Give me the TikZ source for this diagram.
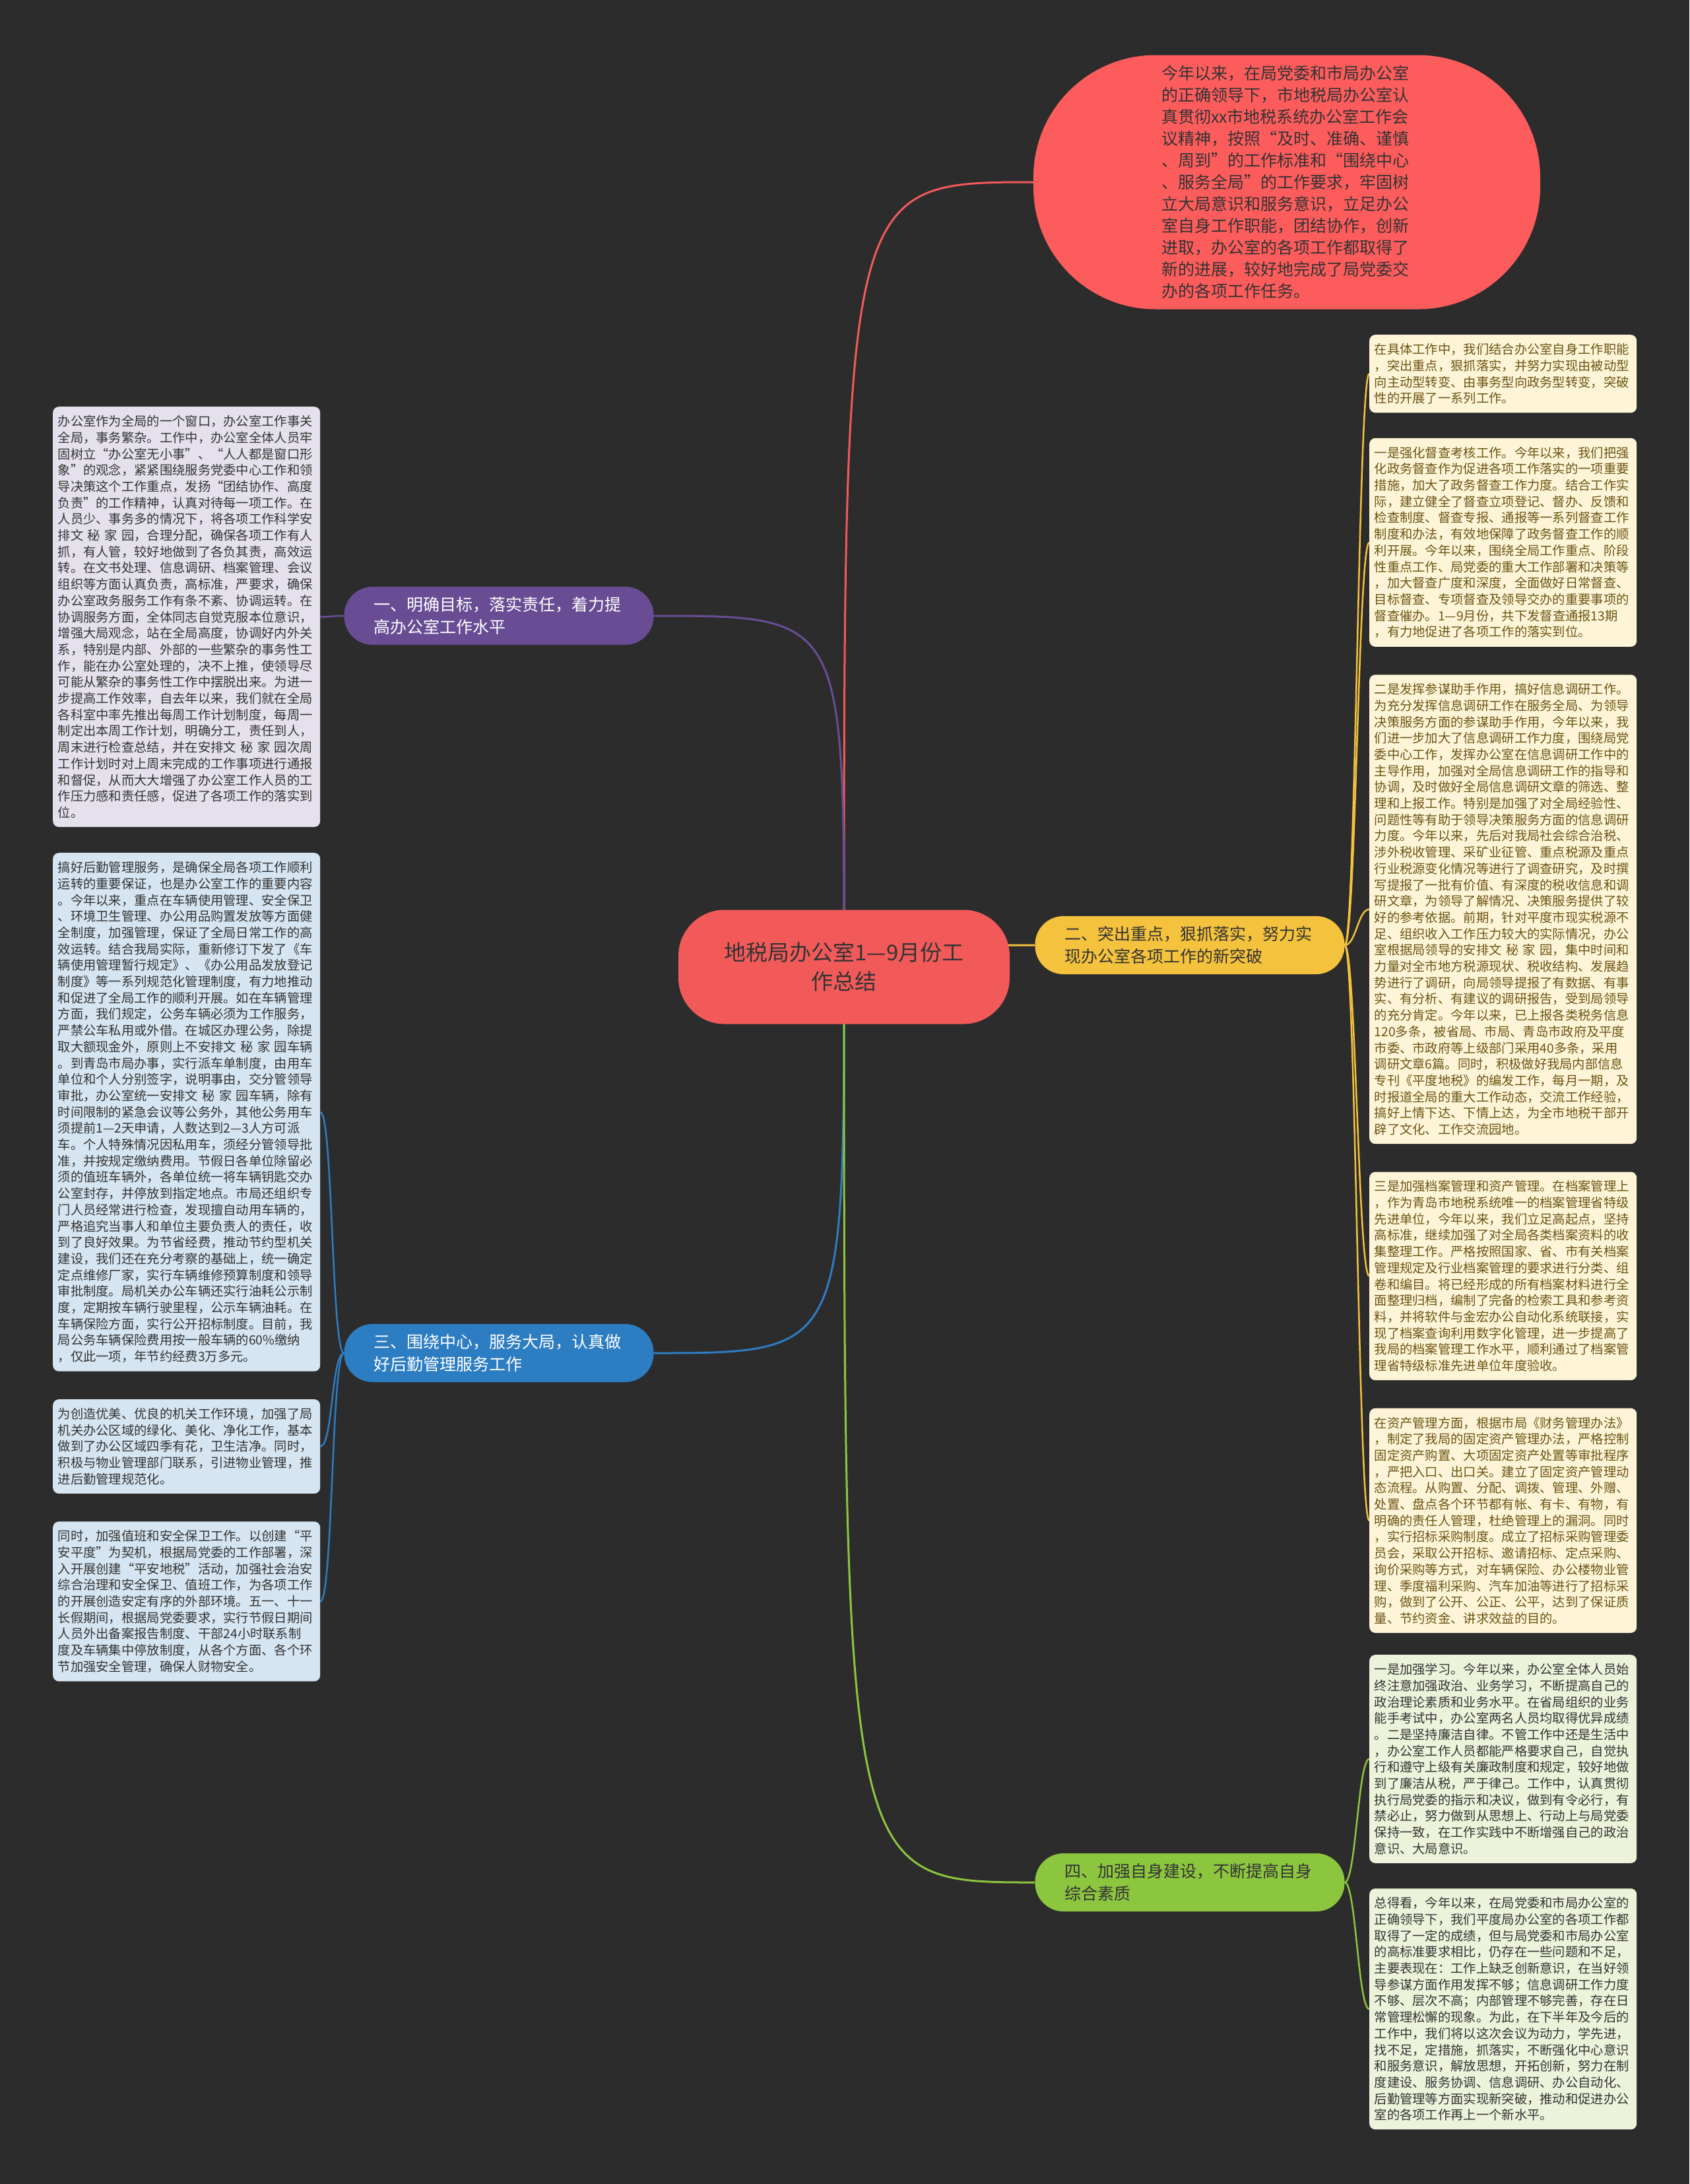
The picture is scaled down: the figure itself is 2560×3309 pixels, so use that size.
\documentclass[tikz,border=0pt]{standalone}
\usepackage{fontspec}
\usepackage{xcolor}
\usepackage{tikz}
\usetikzlibrary{positioning, backgrounds}
\newfontfamily\zhfont{Noto Sans CJK SC}

\definecolor{bgdark}{HTML}{2C2C2C}
\definecolor{rootred}{HTML}{F25A5A}
\definecolor{introred}{HTML}{FD5C5C}
\definecolor{purplebr}{HTML}{684D94}
\definecolor{yellowbr}{HTML}{F4C23C}
\definecolor{bluebr}{HTML}{2D7DC2}
\definecolor{greenbr}{HTML}{8CC63F}
\definecolor{purpleleaf}{HTML}{E5E1EC}
\definecolor{blueleaf}{HTML}{D5E5F1}
\definecolor{yellowleaf}{HTML}{FEF5D8}
\definecolor{greenleaf}{HTML}{ECF3DA}
\definecolor{yellowtext}{HTML}{6B5413}
\definecolor{darktext}{HTML}{333333}

\begin{document}
\begin{tikzpicture}[
  x=1pt, y=-1pt,
  root/.style={fill=rootred, rounded corners=70pt, minimum width=502pt, minimum height=173pt,
               text width=380pt, align=center, text=darktext,
               font={\zhfont\fontsize{33pt}{44pt}\selectfont}},
  intro/.style={fill=introred, rounded corners=185pt, minimum width=768pt, minimum height=385pt,
               text width=380pt, align=left, text=darktext,
               font={\zhfont\fontsize{25pt}{33pt}\selectfont}},
  branch/.style={rounded corners=43pt, minimum width=469pt, minimum height=88pt,
               text width=380pt, align=left, font={\zhfont\fontsize{25pt}{34pt}\selectfont}},
  leaf/.style={rounded corners=9pt, text width=390pt, inner xsep=7.5pt, inner ysep=13pt,
               align=left, font={\zhfont\fontsize{19.3pt}{24.7pt}\selectfont}},
  link/.style={line width=3pt},
  sublink/.style={line width=2.5pt}
]
\useasboundingbox (0,0) rectangle (2560,3309);
\begin{scope}[on background layer]
  \fill[bgdark] (0,0) rectangle (2560,3309);
\end{scope}

% centre and opening paragraph
\node[root] (ctr) at (1279,1465) {地税局办公室1—9月份工\\作总结};
\node[intro] (intro) at (1950,276) {今年以来，在局党委和市局办公室\\
的正确领导下，市地税局办公室认\\
真贯彻xx市地税系统办公室工作会\\
议精神，按照“及时、准确、谨慎\\
、周到”的工作标准和“围绕中心\\
、服务全局”的工作要求，牢固树\\
立大局意识和服务意识，立足办公\\
室自身工作职能，团结协作，创新\\
进取，办公室的各项工作都取得了\\
新的进展，较好地完成了局党委交\\
办的各项工作任务。};

% main branches
\node[branch, fill=purplebr, text=white] (b1) at (756,933) {一、明确目标，落实责任，着力提\\高办公室工作水平};
\node[branch, fill=yellowbr, text=darktext] (b2) at (1803,1432) {二、突出重点，狠抓落实，努力实\\现办公室各项工作的新突破};
\node[branch, fill=bluebr, text=white] (b3) at (756,2050) {三、围绕中心，服务大局，认真做\\好后勤管理服务工作};
\node[branch, fill=greenbr, text=darktext] (b4) at (1803,2852) {四、加强自身建设，不断提高自身\\综合素质};

% branch 1
\node[leaf, fill=purpleleaf, text=darktext, anchor=north west] (p1) at (80,616) {办公室作为全局的一个窗口，办公室工作事关\\
全局，事务繁杂。工作中，办公室全体人员牢\\
固树立“办公室无小事”、“人人都是窗口形\\
象”的观念，紧紧围绕服务党委中心工作和领\\
导决策这个工作重点，发扬“团结协作、高度\\
负责”的工作精神，认真对待每一项工作。在\\
人员少、事务多的情况下，将各项工作科学安\\
排文~秘~家~园，合理分配，确保各项工作有人\\
抓，有人管，较好地做到了各负其责，高效运\\
转。在文书处理、信息调研、档案管理、会议\\
组织等方面认真负责，高标准，严要求，确保\\
办公室政务服务工作有条不紊、协调运转。在\\
协调服务方面，全体同志自觉克服本位意识，\\
增强大局观念，站在全局高度，协调好内外关\\
系，特别是内部、外部的一些繁杂的事务性工\\
作，能在办公室处理的，决不上推，使领导尽\\
可能从繁杂的事务性工作中摆脱出来。为进一\\
步提高工作效率，自去年以来，我们就在全局\\
各科室中率先推出每周工作计划制度，每周一\\
制定出本周工作计划，明确分工，责任到人，\\
周末进行检查总结，并在安排文~秘~家~园次周\\
工作计划时对上周末完成的工作事项进行通报\\
和督促，从而大大增强了办公室工作人员的工\\
作压力感和责任感，促进了各项工作的落实到\\
位。};

% branch 3
\node[leaf, fill=blueleaf, text=darktext, anchor=north west] (l1) at (80,1292) {搞好后勤管理服务，是确保全局各项工作顺利\\
运转的重要保证，也是办公室工作的重要内容\\
。今年以来，重点在车辆使用管理、安全保卫\\
、环境卫生管理、办公用品购置发放等方面健\\
全制度，加强管理，保证了全局日常工作的高\\
效运转。结合我局实际，重新修订下发了《车\\
辆使用管理暂行规定》、《办公用品发放登记\\
制度》等一系列规范化管理制度，有力地推动\\
和促进了全局工作的顺利开展。如在车辆管理\\
方面，我们规定，公务车辆必须为工作服务，\\
严禁公车私用或外借。在城区办理公务，除提\\
取大额现金外，原则上不安排文~秘~家~园车辆\\
。到青岛市局办事，实行派车单制度，由用车\\
单位和个人分别签字，说明事由，交分管领导\\
审批，办公室统一安排文~秘~家~园车辆，除有\\
时间限制的紧急会议等公务外，其他公务用车\\
须提前1—2天申请，人数达到2—3人方可派\\
车。个人特殊情况因私用车，须经分管领导批\\
准，并按规定缴纳费用。节假日各单位除留必\\
须的值班车辆外，各单位统一将车辆钥匙交办\\
公室封存，并停放到指定地点。市局还组织专\\
门人员经常进行检查，发现擅自动用车辆的，\\
严格追究当事人和单位主要负责人的责任，收\\
到了良好效果。为节省经费，推动节约型机关\\
建设，我们还在充分考察的基础上，统一确定\\
定点维修厂家，实行车辆维修预算制度和领导\\
审批制度。局机关办公车辆还实行油耗公示制\\
度，定期按车辆行驶里程，公示车辆油耗。在\\
车辆保险方面，实行公开招标制度。目前，我\\
局公务车辆保险费用按一般车辆的60\%缴纳\\
，仅此一项，年节约经费3万多元。};
\node[leaf, fill=blueleaf, text=darktext, below=42pt of l1] (l2) {为创造优美、优良的机关工作环境，加强了局\\
机关办公区域的绿化、美化、净化工作，基本\\
做到了办公区域四季有花，卫生洁净。同时，\\
积极与物业管理部门联系，引进物业管理，推\\
进后勤管理规范化。};
\node[leaf, fill=blueleaf, text=darktext, below=42pt of l2] (l3) {同时，加强值班和安全保卫工作。以创建“平\\
安平度”为契机，根据局党委的工作部署，深\\
入开展创建“平安地税”活动，加强社会治安\\
综合治理和安全保卫、值班工作，为各项工作\\
的开展创造安定有序的外部环境。五一、十一\\
长假期间，根据局党委要求，实行节假日期间\\
人员外出备案报告制度、干部24小时联系制\\
度及车辆集中停放制度，从各个方面、各个环\\
节加强安全管理，确保人财物安全。};

% branch 2
\node[leaf, fill=yellowleaf, text=yellowtext, anchor=north west] (y1) at (2075,507) {在具体工作中，我们结合办公室自身工作职能\\
，突出重点，狠抓落实，并努力实现由被动型\\
向主动型转变、由事务型向政务型转变，突破\\
性的开展了一系列工作。};
\node[leaf, fill=yellowleaf, text=yellowtext, below=38pt of y1] (y2) {一是强化督查考核工作。今年以来，我们把强\\
化政务督查作为促进各项工作落实的一项重要\\
措施，加大了政务督查工作力度。结合工作实\\
际，建立健全了督查立项登记、督办、反馈和\\
检查制度、督查专报、通报等一系列督查工作\\
制度和办法，有效地保障了政务督查工作的顺\\
利开展。今年以来，围绕全局工作重点、阶段\\
性重点工作、局党委的重大工作部署和决策等\\
，加大督查广度和深度，全面做好日常督查、\\
目标督查、专项督查及领导交办的重要事项的\\
督查催办。1—9月份，共下发督查通报13期\\
，有力地促进了各项工作的落实到位。};
\node[leaf, fill=yellowleaf, text=yellowtext, below=42pt of y2] (y3) {二是发挥参谋助手作用，搞好信息调研工作。\\
为充分发挥信息调研工作在服务全局、为领导\\
决策服务方面的参谋助手作用，今年以来，我\\
们进一步加大了信息调研工作力度，围绕局党\\
委中心工作，发挥办公室在信息调研工作中的\\
主导作用，加强对全局信息调研工作的指导和\\
协调，及时做好全局信息调研文章的筛选、整\\
理和上报工作。特别是加强了对全局经验性、\\
问题性等有助于领导决策服务方面的信息调研\\
力度。今年以来，先后对我局社会综合治税、\\
涉外税收管理、采矿业征管、重点税源及重点\\
行业税源变化情况等进行了调查研究，及时撰\\
写提报了一批有价值、有深度的税收信息和调\\
研文章，为领导了解情况、决策服务提供了较\\
好的参考依据。前期，针对平度市现实税源不\\
足、组织收入工作压力较大的实际情况，办公\\
室根据局领导的安排文~秘~家~园，集中时间和\\
力量对全市地方税源现状、税收结构、发展趋\\
势进行了调研，向局领导提报了有数据、有事\\
实、有分析、有建议的调研报告，受到局领导\\
的充分肯定。今年以来，已上报各类税务信息\\
120多条，被省局、市局、青岛市政府及平度\\
市委、市政府等上级部门采用40多条，采用\\
调研文章6篇。同时，积极做好我局内部信息\\
专刊《平度地税》的编发工作，每月一期，及\\
时报道全局的重大工作动态，交流工作经验，\\
搞好上情下达、下情上达，为全市地税干部开\\
辟了文化、工作交流园地。};
\node[leaf, fill=yellowleaf, text=yellowtext, below=42pt of y3] (y4) {三是加强档案管理和资产管理。在档案管理上\\
，作为青岛市地税系统唯一的档案管理省特级\\
先进单位，今年以来，我们立足高起点，坚持\\
高标准，继续加强了对全局各类档案资料的收\\
集整理工作。严格按照国家、省、市有关档案\\
管理规定及行业档案管理的要求进行分类、组\\
卷和编目。将已经形成的所有档案材料进行全\\
面整理归档，编制了完备的检索工具和参考资\\
料，并将软件与金宏办公自动化系统联接，实\\
现了档案查询利用数字化管理，进一步提高了\\
我局的档案管理工作水平，顺利通过了档案管\\
理省特级标准先进单位年度验收。};
\node[leaf, fill=yellowleaf, text=yellowtext, below=42pt of y4] (y5) {在资产管理方面，根据市局《财务管理办法》\\
，制定了我局的固定资产管理办法，严格控制\\
固定资产购置、大项固定资产处置等审批程序\\
，严把入口、出口关。建立了固定资产管理动\\
态流程。从购置、分配、调拨、管理、外赠、\\
处置、盘点各个环节都有帐、有卡、有物，有\\
明确的责任人管理，杜绝管理上的漏洞。同时\\
，实行招标采购制度。成立了招标采购管理委\\
员会，采取公开招标、邀请招标、定点采购、\\
询价采购等方式，对车辆保险、办公楼物业管\\
理、季度福利采购、汽车加油等进行了招标采\\
购，做到了公开、公正、公平，达到了保证质\\
量、节约资金、讲求效益的目的。};

% branch 4
\node[leaf, fill=greenleaf, text=darktext, anchor=north west] (g1) at (2075,2507) {一是加强学习。今年以来，办公室全体人员始\\
终注意加强政治、业务学习，不断提高自己的\\
政治理论素质和业务水平。在省局组织的业务\\
能手考试中，办公室两名人员均取得优异成绩\\
。二是坚持廉洁自律。不管工作中还是生活中\\
，办公室工作人员都能严格要求自己，自觉执\\
行和遵守上级有关廉政制度和规定，较好地做\\
到了廉洁从税，严于律己。工作中，认真贯彻\\
执行局党委的指示和决议，做到有令必行，有\\
禁必止，努力做到从思想上、行动上与局党委\\
保持一致，在工作实践中不断增强自己的政治\\
意识、大局意识。};
\node[leaf, fill=greenleaf, text=darktext, below=38pt of g1] (g2) {总得看，今年以来，在局党委和市局办公室的\\
正确领导下，我们平度局办公室的各项工作都\\
取得了一定的成绩，但与局党委和市局办公室\\
的高标准要求相比，仍存在一些问题和不足，\\
主要表现在：工作上缺乏创新意识，在当好领\\
导参谋方面作用发挥不够；信息调研工作力度\\
不够、层次不高；内部管理不够完善，存在日\\
常管理松懈的现象。为此，在下半年及今后的\\
工作中，我们将以这次会议为动力，学先进，\\
找不足，定措施，抓落实，不断强化中心意识\\
和服务意识，解放思想，开拓创新，努力在制\\
度建设、服务协调、信息调研、办公自动化、\\
后勤管理等方面实现新突破，推动和促进办公\\
室的各项工作再上一个新水平。};

% connectors
\begin{scope}[on background layer]
  \draw[link, rootred] (ctr.center) .. controls (ctr.center |- intro.west) .. (intro.west);
  \draw[link, purplebr] (ctr.center) .. controls (ctr.center |- b1.east) .. (b1.east);
  \draw[link, yellowbr] (ctr.center) .. controls (ctr.center |- b2.west) .. (b2.west);
  \draw[link, bluebr] (ctr.center) .. controls (ctr.center |- b3.east) .. (b3.east);
  \draw[link, greenbr] (ctr.center) .. controls (ctr.center |- b4.west) .. (b4.west);

  \draw[sublink, purplebr] (b1.west) .. controls +(-19,0) and +(19,0) .. (p1.east);

  \draw[sublink, yellowbr] (b2.east) .. controls +(17,0) and +(-17,0) .. (y1.west);
  \draw[sublink, yellowbr] (b2.east) .. controls +(17,0) and +(-17,0) .. (y2.west);
  \draw[sublink, yellowbr] (b2.east) .. controls +(17,0) and +(-17,0) .. (y3.west);
  \draw[sublink, yellowbr] (b2.east) .. controls +(17,0) and +(-17,0) .. (y4.west);
  \draw[sublink, yellowbr] (b2.east) .. controls +(17,0) and +(-17,0) .. (y5.west);

  \draw[sublink, bluebr] (b3.west) .. controls +(-19,0) and +(19,0) .. (l1.east);
  \draw[sublink, bluebr] (b3.west) .. controls +(-19,0) and +(19,0) .. (l2.east);
  \draw[sublink, bluebr] (b3.west) .. controls +(-19,0) and +(19,0) .. (l3.east);

  \draw[sublink, greenbr] (b4.east) .. controls +(17,0) and +(-17,0) .. (g1.west);
  \draw[sublink, greenbr] (b4.east) .. controls +(17,0) and +(-17,0) .. (g2.west);
\end{scope}
\end{tikzpicture}
\end{document}
